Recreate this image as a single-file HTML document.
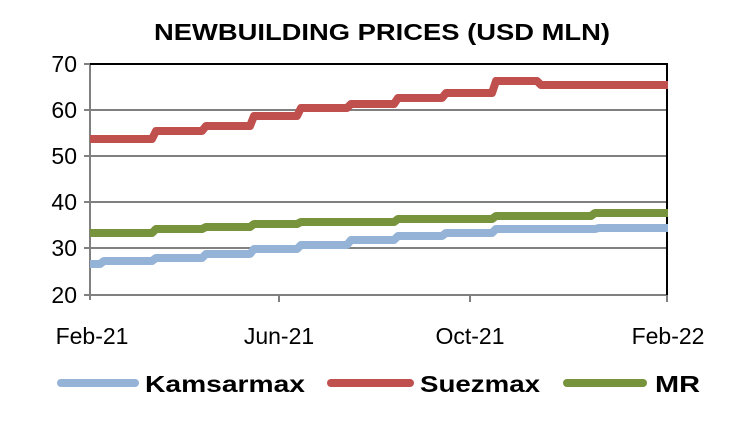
<!DOCTYPE html>
<html><head><meta charset="utf-8"><style>
html,body{margin:0;padding:0;background:#fff;}
svg{display:block;font-family:"Liberation Sans",sans-serif;}
</style></head><body>
<svg width="739" height="432" viewBox="0 0 739 432" xmlns="http://www.w3.org/2000/svg">
<text x="382" y="40" text-anchor="middle" font-size="23" font-weight="bold" textLength="456" lengthAdjust="spacingAndGlyphs">NEWBUILDING PRICES (USD MLN)</text>
<g stroke="#808080" stroke-width="2">
<line x1="90" y1="110" x2="668" y2="110"/>
<line x1="90" y1="156" x2="668" y2="156"/>
<line x1="90" y1="202" x2="668" y2="202"/>
<line x1="90" y1="248" x2="668" y2="248"/>
<line x1="90" y1="295" x2="668" y2="295"/>
<line x1="90" y1="64" x2="90" y2="300"/>
<line x1="84" y1="64" x2="90" y2="64"/><line x1="84" y1="110" x2="90" y2="110"/><line x1="84" y1="156" x2="90" y2="156"/><line x1="84" y1="202" x2="90" y2="202"/><line x1="84" y1="248" x2="90" y2="248"/><line x1="84" y1="295" x2="90" y2="295"/>
<line x1="279" y1="295" x2="279" y2="302"/><line x1="470" y1="295" x2="470" y2="302"/><line x1="667" y1="295" x2="667" y2="302"/>
</g>
<line x1="90" y1="64" x2="668" y2="64" stroke="#000" stroke-width="2"/>
<line x1="667" y1="64" x2="667" y2="295" stroke="#000" stroke-width="2"/>
<g font-size="23" text-anchor="end">
<text x="77" y="72">70</text><text x="77" y="118">60</text><text x="77" y="164">50</text><text x="77" y="210">40</text><text x="77" y="256">30</text><text x="77" y="303">20</text>
</g>
<g font-size="23" text-anchor="middle">
<text x="92" y="344">Feb-21</text><text x="279" y="344">Jun-21</text><text x="470" y="344">Oct-21</text><text x="668" y="344">Feb-22</text>
</g>
<g fill="none" stroke-width="8" stroke-linejoin="round">
<path stroke="#95b3d7" d="M90 264 L100 264 L104 261 L152 261 L156 258 L202 258 L206 254 L250 254 L254 249 L297 249 L301 245 L347 245 L351 240 L394 240 L398 236 L442 236 L446 233 L492 233 L496 229 L595 229 L599 228 L668 228"/>
<path stroke="#c0504d" d="M90 139 L152 139 L156 131 L202 131 L206 126 L250 126 L254 116 L297 116 L301 108 L347 108 L351 104 L394 104 L398 98 L442 98 L446 93 L492 93 L496 81 L537 81 L541 85 L668 85"/>
<path stroke="#77933c" d="M90 233 L152 233 L156 229 L202 229 L206 227 L250 227 L254 224 L297 224 L301 222 L394 222 L398 219 L492 219 L496 216 L591 216 L595 213 L668 213"/>
</g>
<g stroke-width="8" stroke-linecap="round">
<line x1="61" y1="383" x2="135" y2="383" stroke="#95b3d7"/>
<line x1="331" y1="383" x2="410" y2="383" stroke="#c0504d"/>
<line x1="567" y1="383" x2="643" y2="383" stroke="#77933c"/>
</g>
<g font-size="23" font-weight="bold">
<text x="145" y="392" textLength="160" lengthAdjust="spacingAndGlyphs">Kamsarmax</text>
<text x="420" y="392" textLength="120" lengthAdjust="spacingAndGlyphs">Suezmax</text>
<text x="655" y="392" textLength="45" lengthAdjust="spacingAndGlyphs">MR</text>
</g>
</svg>
</body></html>
